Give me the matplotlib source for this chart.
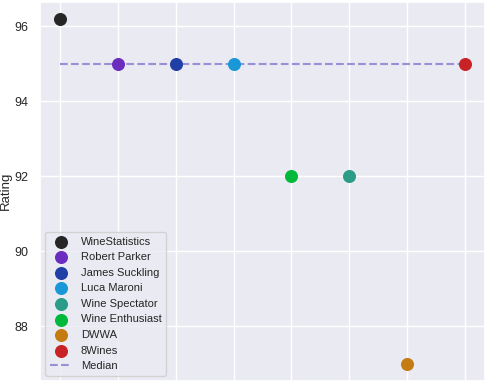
import numpy as np
import matplotlib
matplotlib.use("Agg")
import matplotlib.pyplot as plt
import seaborn as sns

sns.set_theme(style="darkgrid")
plt.rcParams['font.family'] = ['Liberation Sans', 'DejaVu Sans']

# datos (en orden de la leyenda)
critics = ["WineStatistics", "Robert Parker", "James Suckling", "Luca Maroni",
           "Wine Spectator", "Wine Enthusiast", "DWWA", "8Wines"]
ratings = [96.2, 95, 95, 95, 92, 92, 87, 95]
# posición en el eje x de cada crítico
slots = [0, 1, 2, 3, 5, 4, 6, 7]
colors = ["#262626", "#6a2dbf", "#1f3ea6", "#1a97d6",
          "#2a9c87", "#00b93a", "#c47b12", "#c92226"]
median_color = "#9a8fd6"

median = np.median(ratings)

fig, ax = plt.subplots(figsize=(4.88, 3.83), dpi=100)
for i in range(len(critics)):
    ax.scatter(slots[i], ratings[i], s=70, color=colors[i], label=critics[i], zorder=3)
ax.plot([min(slots), max(slots)], [median, median], ls="--", color=median_color, lw=1.5,
        label="Median", zorder=2)

ax.set_xticks(sorted(slots))
ax.set_xticklabels([])
ax.set_yticks([88, 90, 92, 94, 96])
ax.tick_params(axis="y", labelsize=9, length=0, pad=8)
ax.set_ylabel("Rating", fontsize=9.5, labelpad=2)
ax.legend(loc="lower left", fontsize=8, labelspacing=0.5, frameon=True)

fig.subplots_adjust(left=0.0815, right=0.9945, top=0.996, bottom=0.005)
plt.savefig("out.png", dpi=100)
